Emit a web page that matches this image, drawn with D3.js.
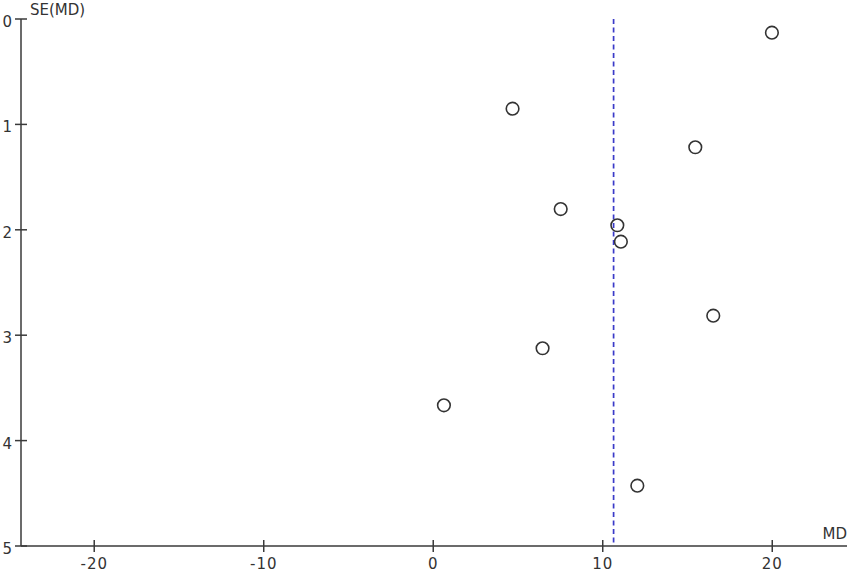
<!DOCTYPE html>
<html>
<head>
<meta charset="utf-8">
<script src="https://cdn.jsdelivr.net/npm/d3@7"></script>
<style>
  html, body { margin: 0; padding: 0; background: #fff; }
  svg text { font-family: "DejaVu Sans", Arial, sans-serif; fill: #333; }
</style>
</head>
<body>
<svg id="chart" width="851" height="572"></svg>
<script>
// Data: mean difference (MD) and its standard error SE(MD)
const studyMD = [4.68, 7.52, 10.86, 11.07, 19.98, 15.46, 16.52, 6.45, 0.63, 12.04];
const studySE = [0.851, 1.803, 1.957, 2.113, 0.130, 1.217, 2.815, 3.124, 3.665, 4.428];
const pooledMD = 10.64;
const xTicks = [-20, -10, 0, 10, 20];
const yTicks = [0, 1, 2, 3, 4, 5];
const xLabel = "MD";
const yLabel = "SE(MD)";

const svg = d3.select("#chart");
const x = d3.scaleLinear().domain([-24.32, 24.41]).range([21, 847]);
const y = d3.scaleLinear().domain([0, 5]).range([19, 546]);

const axisColor = "#3a3a3a";

// X axis
const xAxis = svg.append("g").attr("transform", `translate(0,${y(5)})`);
xAxis.append("line").attr("x1", x.range()[0]).attr("x2", x.range()[1])
  .attr("stroke", axisColor).attr("stroke-width", 1.5);
xAxis.selectAll("line.tick").data(xTicks).enter().append("line")
  .attr("class", "tick")
  .attr("x1", d => x(d)).attr("x2", d => x(d))
  .attr("y1", -6).attr("y2", 6)
  .attr("stroke", axisColor).attr("stroke-width", 1.5);
xAxis.selectAll("text").data(xTicks).enter().append("text")
  .attr("x", d => x(d)).attr("y", 23)
  .attr("text-anchor", "middle")
  .attr("font-size", 15)
  .attr("letter-spacing", 1)
  .text(d => String(d));

// Y axis
const yAxis = svg.append("g").attr("transform", `translate(${x.range()[0]},0)`);
yAxis.append("line").attr("y1", y(0)).attr("y2", y(5))
  .attr("stroke", axisColor).attr("stroke-width", 1.5);
yAxis.selectAll("line.tick").data(yTicks).enter().append("line")
  .attr("class", "tick")
  .attr("y1", d => y(d)).attr("y2", d => y(d))
  .attr("x1", -6).attr("x2", 6)
  .attr("stroke", axisColor).attr("stroke-width", 1.5);
yAxis.selectAll("text").data(yTicks).enter().append("text")
  .attr("x", -9).attr("y", d => y(d) + 8)
  .attr("text-anchor", "end")
  .attr("font-size", 15)
  .text(d => d);

// Axis titles
svg.append("text").attr("x", 30).attr("y", 15)
  .attr("font-size", 15).text(yLabel);
svg.append("text").attr("x", 847).attr("y", 539)
  .attr("text-anchor", "end")
  .attr("font-size", 15).text(xLabel);

// Pooled estimate dashed line
svg.append("line")
  .attr("x1", x(pooledMD)).attr("x2", x(pooledMD))
  .attr("y1", 19).attr("y2", y(5))
  .attr("stroke", "#3a3ac8").attr("stroke-width", 1.7)
  .attr("stroke-dasharray", "5,3.5");

// Study points
svg.append("g").selectAll("circle")
  .data(studyMD.map((m, i) => ({ m, se: studySE[i] })))
  .enter().append("circle")
  .attr("cx", d => x(d.m)).attr("cy", d => y(d.se))
  .attr("r", 6.3)
  .attr("fill", "none")
  .attr("stroke", "#333").attr("stroke-width", 1.6);
</script>
</body>
</html>
